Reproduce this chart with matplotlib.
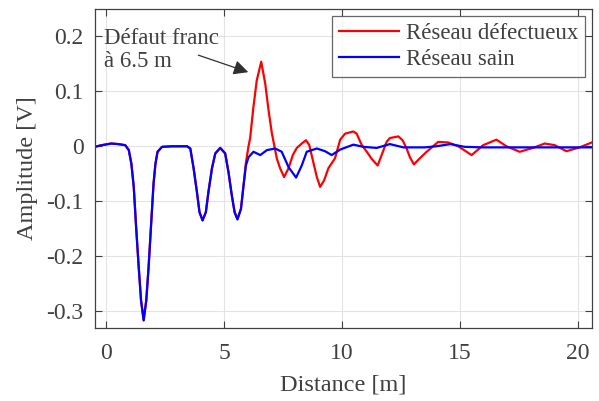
import matplotlib.pyplot as plt

plt.rcParams["font.family"] = ["Liberation Serif", "DejaVu Serif"]
TXT = "#404040"
FONTSIZE = 17

# healthy network (blue)
dist_sain = [-0.5, -0.2, 0.2, 0.5, 0.8, 0.95, 1.06, 1.16, 1.26, 1.37, 1.47, 1.58, 1.69, 1.79,
             1.89, 2.0, 2.08, 2.17, 2.36, 2.8, 3.42, 3.56, 3.7, 3.84, 3.95, 4.08, 4.22, 4.33,
             4.48, 4.62, 4.83, 5.04, 5.18, 5.32, 5.44, 5.56, 5.71, 5.82, 5.92, 6.03, 6.24,
             6.53, 6.81, 7.16, 7.44, 7.73, 8.05, 8.29, 8.5, 8.93, 9.28, 9.56, 9.92, 10.48,
             10.9, 11.47, 12.03, 12.6, 13.5, 14.0, 14.6, 15.2, 16.0, 17.0, 18.0, 19.0, 20.0,
             20.6]
ampl_sain = [-0.001, 0.002, 0.005, 0.004, 0.002, -0.007, -0.032, -0.074, -0.147, -0.22,
             -0.281, -0.317, -0.281, -0.22, -0.147, -0.068, -0.032, -0.01, -0.001, 0.0, 0.0,
             -0.004, -0.04, -0.083, -0.12, -0.135, -0.12, -0.083, -0.04, -0.013, -0.003,
             -0.013, -0.047, -0.089, -0.12, -0.133, -0.114, -0.071, -0.035, -0.02, -0.01,
             -0.016, -0.007, -0.004, -0.01, -0.038, -0.057, -0.035, -0.01, -0.004, -0.009,
             -0.016, -0.006, 0.003, -0.001, -0.003, 0.004, -0.002, -0.002, 0.0, 0.004, -0.001,
             -0.002, -0.002, -0.002, -0.002, -0.002, -0.002]

# defective network (red), identical to the healthy one before the fault
dist_def = [-0.5, -0.2, 0.2, 0.5, 0.8, 0.95, 1.06, 1.16, 1.26, 1.37, 1.47, 1.58, 1.69, 1.79,
            1.89, 2.0, 2.08, 2.17, 2.36, 2.8, 3.42, 3.56, 3.7, 3.84, 3.95, 4.08, 4.22, 4.33,
            4.48, 4.62, 4.83, 5.04, 5.18, 5.32, 5.44, 5.56, 5.71, 5.82, 5.92, 6.03, 6.1, 6.24,
            6.38, 6.57, 6.74, 6.88, 7.02, 7.23, 7.37, 7.54, 7.73, 7.91, 8.08, 8.29, 8.47,
            8.61, 8.78, 8.93, 9.07, 9.24, 9.42, 9.7, 9.92, 10.13, 10.48, 10.62, 10.84, 11.05,
            11.26, 11.51, 11.68, 11.89, 12.03, 12.39, 12.57, 12.74, 12.88, 13.05, 13.3, 13.59,
            14.08, 14.5, 14.93, 15.5, 15.99, 16.55, 16.98, 17.54, 18.1, 18.6, 19.03, 19.52,
            20.08, 20.6]
ampl_def = [-0.001, 0.002, 0.005, 0.004, 0.002, -0.007, -0.032, -0.074, -0.147, -0.22,
            -0.281, -0.317, -0.281, -0.22, -0.147, -0.068, -0.032, -0.01, -0.001, 0.0, 0.0,
            -0.004, -0.04, -0.083, -0.12, -0.135, -0.12, -0.083, -0.04, -0.013, -0.003,
            -0.013, -0.047, -0.089, -0.12, -0.133, -0.114, -0.071, -0.03, 0.0, 0.015, 0.072,
            0.12, 0.154, 0.114, 0.066, 0.024, -0.022, -0.04, -0.056, -0.04, -0.016, -0.003,
            0.005, 0.011, 0.002, -0.029, -0.056, -0.074, -0.062, -0.04, -0.022, 0.012, 0.023,
            0.027, 0.023, 0.002, -0.01, -0.023, -0.035, -0.016, 0.008, 0.015, 0.018, 0.011,
            -0.004, -0.02, -0.033, -0.022, -0.01, 0.008, 0.007, 0.0, -0.016, 0.002, 0.012, 0.0,
            -0.01, -0.003, 0.005, 0.002, -0.009, -0.002, 0.007]

x_ticks = [0, 5, 10, 15, 20]
y_ticks = [-0.3, -0.2, -0.1, 0, 0.1, 0.2]
y_labels = ["-0.3", "-0.2", "-0.1", "0", "0.1", "0.2"]

fig = plt.figure(figsize=(5.99, 4.01), dpi=100)
ax = fig.add_axes([0.158, 0.182, 0.830, 0.7955])

ax.plot(dist_def, ampl_def, color="#ff0000", lw=1.6, label="Réseau défectueux")
ax.plot(dist_sain, ampl_sain, color="#0000ff", lw=1.6, label="Réseau sain")

ax.set_xlim(-0.5, 20.6)
ax.set_ylim(-0.331, 0.25)
ax.set_xticks(x_ticks)
ax.set_yticks(y_ticks)
ax.set_yticklabels(y_labels)
ax.grid(True, color="#e3e3e3", lw=0.8)
ax.set_axisbelow(True)
ax.tick_params(direction="in", length=5, top=True, right=True, colors="#404040",
               labelcolor=TXT, labelsize=FONTSIZE, width=0.8)
ax.tick_params(axis="x", pad=11)
ax.tick_params(axis="y", pad=8)
for s in ax.spines.values():
    s.set_color("#404040")
    s.set_linewidth(0.9)

ax.set_xlabel("Distance [m]", fontsize=17.5, color=TXT, labelpad=7)
ax.set_ylabel("Amplitude [V]", fontsize=17.5, color=TXT, labelpad=6)

# annotation text and arrow
ax.text(-0.1, 0.175, "Défaut franc\nà 6.5 m", fontsize=16.5, color=TXT,
        va="center", ha="left", linespacing=1.1)
ax.annotate("", xy=(6.02, 0.135), xytext=(3.9, 0.166),
            arrowprops=dict(arrowstyle="-|>", color="#303030", lw=0.9,
                            mutation_scale=22, shrinkA=0, shrinkB=0))

leg = ax.legend(loc="upper right", fontsize=16.5, frameon=True, fancybox=False,
                handlelength=2.6, borderpad=0.3, labelspacing=0.22, handletextpad=0.3,
                borderaxespad=0.3)
leg.get_frame().set_edgecolor("#404040")
leg.get_frame().set_linewidth(0.9)
for t in leg.get_texts():
    t.set_color(TXT)

fig.savefig("out.png", dpi=100)
